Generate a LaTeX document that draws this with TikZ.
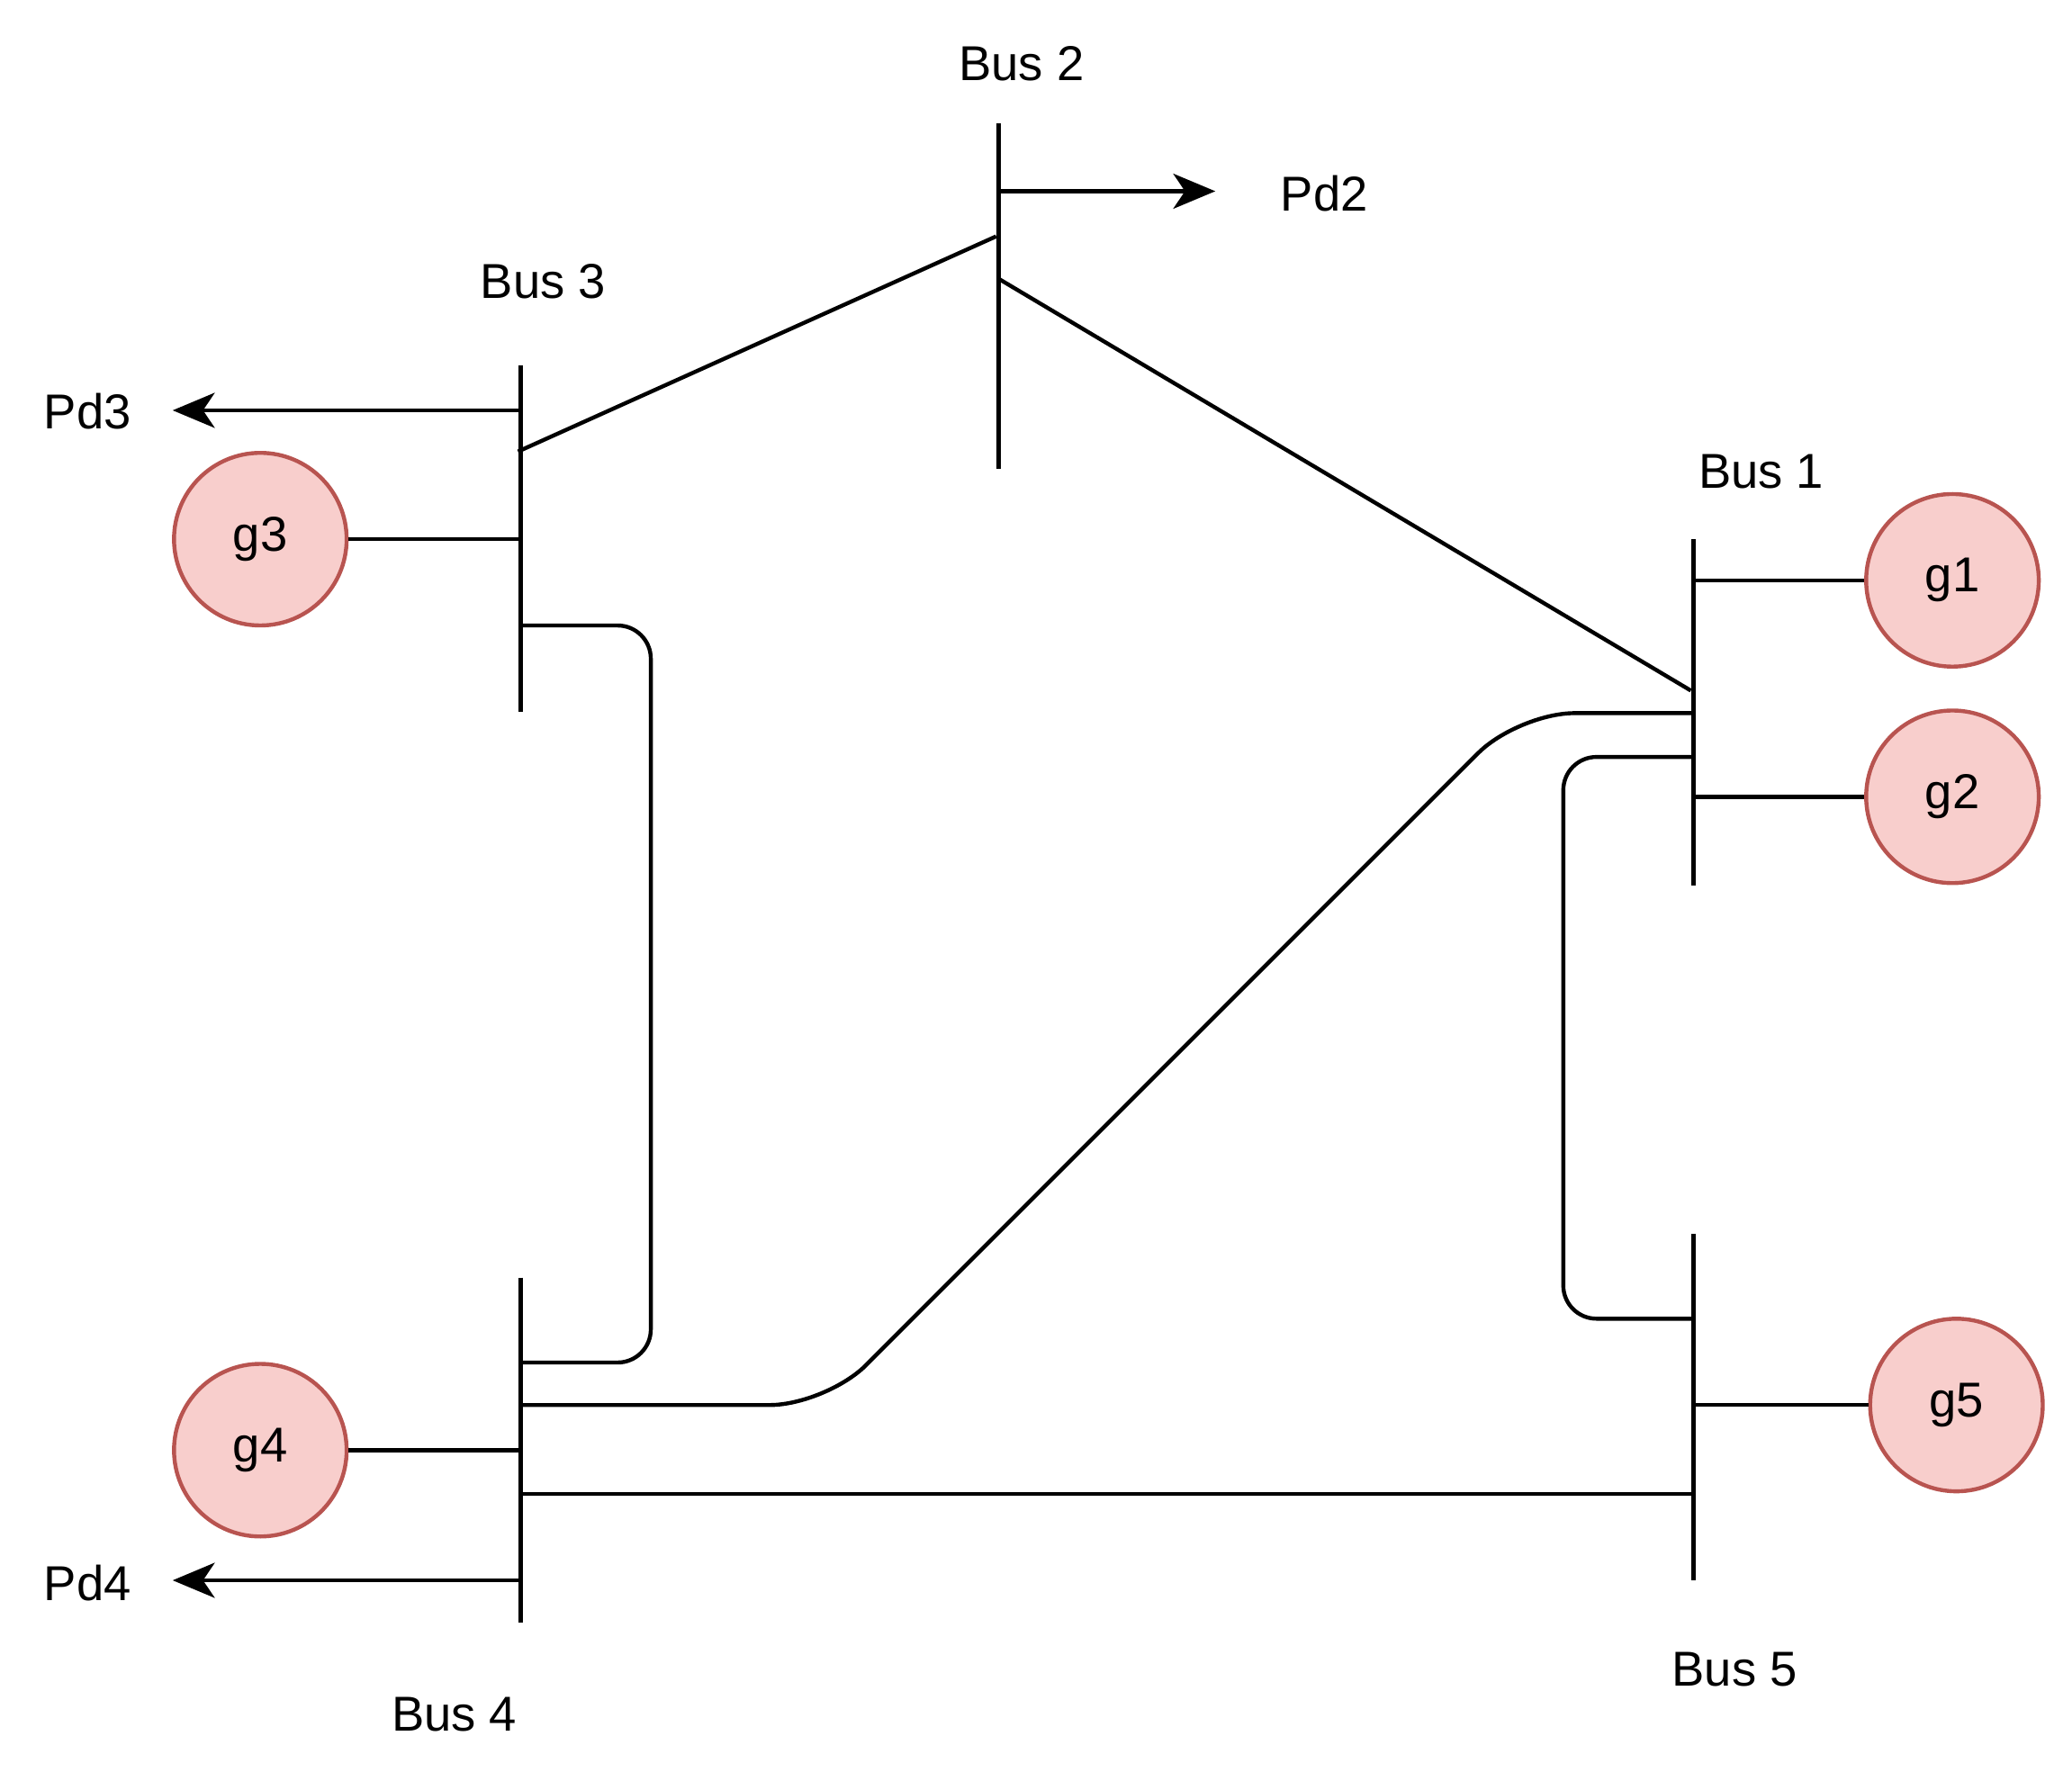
\documentclass[tikz,border=0pt]{standalone}
\usepackage{fontspec}
\setmainfont{Liberation Sans}
\usetikzlibrary{arrows.meta}
\definecolor{gfill}{HTML}{F8CECC}
\definecolor{gdraw}{HTML}{B85450}
\begin{document}
\begin{tikzpicture}[x=0.02cm,y=-0.02cm,
  line/.style={line width=1.7pt,line join=round},
  gen/.style={circle,fill=gfill,draw=gdraw,line width=1.7pt,minimum size=2.6cm,inner sep=0pt,font=\fontsize{21}{25}\selectfont},
  lbl/.style={font=\fontsize{21}{25}\selectfont,inner sep=0pt},
  arr/.style={line,-{Stealth[length=18pt,width=15pt,inset=5pt]}}]
\useasboundingbox (0,0) rectangle (1560,1334);
% buses
\draw[line] (752,93) -- (752,353);
\draw[line] (392,275) -- (392,536);
\draw[line] (1275,406) -- (1275,667);
\draw[line] (1275,929) -- (1275,1190);
\draw[line] (392,962) -- (392,1222);
\node[lbl] (l2) at (769,48) {Bus 2};
\node[lbl] (l3) at (409,212) {Bus 3};
\node[lbl] (l1) at (1326,355) {Bus 1};
\node[lbl] (l5) at (1306,1257) {Bus 5};
\node[lbl] (l4) at (342,1291) {Bus 4};
% loads
\coordinate (a2) at (752,144); \coordinate (a2e) at (915,144);
\coordinate (a3) at (392,309); \coordinate (a3e) at (130,309);
\coordinate (a4) at (392,1190); \coordinate (a4e) at (130,1190);
\draw[arr] (a2) -- (a2e);
\draw[arr] (a3) -- (a3e);
\draw[arr] (a4) -- (a4e);
\node[lbl] (pd2) at (997,146) {Pd2};
\node[lbl] (pd3) at (66,310) {Pd3};
\node[lbl] (pd4) at (66,1192) {Pd4};
% generators
\node[gen] (g3) at (196,406) {g3};
\node[gen] (g4) at (196,1092) {g4};
\node[gen] (g1) at (1470,437) {g1};
\node[gen] (g2) at (1470,600) {g2};
\node[gen] (g5) at (1473,1058) {g5};
\coordinate (c3) at (392,406); \coordinate (c4) at (392,1092);
\coordinate (c1) at (1275,437); \coordinate (c2) at (1275,600);
\coordinate (c5) at (1277,1058);
\draw[line] (g3) -- (c3);
\draw[line] (g4) -- (c4);
\draw[line] (g1) -- (c1);
\draw[line] (g2) -- (c2);
\draw[line] (g5) -- (c5);
% lines
\coordinate (p32a) at (390,340); \coordinate (p32b) at (750,178);
\draw[line] (p32a) -- (p32b);
\coordinate (p21a) at (752,210); \coordinate (p21b) at (1273,520);
\draw[line] (p21a) -- (p21b);
\coordinate (p34a) at (392,471); \coordinate (p34b) at (392,1026);
\draw[line,rounded corners=0.5cm] (p34a) -- (490,471) -- (490,1026) -- (p34b);
\coordinate (p14a) at (1275,537); \coordinate (p14b) at (392,1058);
\draw[line,rounded corners=0.85cm] (p14a) -- (1143,537) -- (622,1058) -- (p14b);
\coordinate (p15a) at (1275,570); \coordinate (p15b) at (1275,993);
\draw[line,rounded corners=0.5cm] (p15a) -- (1177,570) -- (1177,993) -- (p15b);
\coordinate (p45a) at (392,1125); \coordinate (p45b) at (1275,1125);
\draw[line] (p45a) -- (p45b);
\end{tikzpicture}
\end{document}
